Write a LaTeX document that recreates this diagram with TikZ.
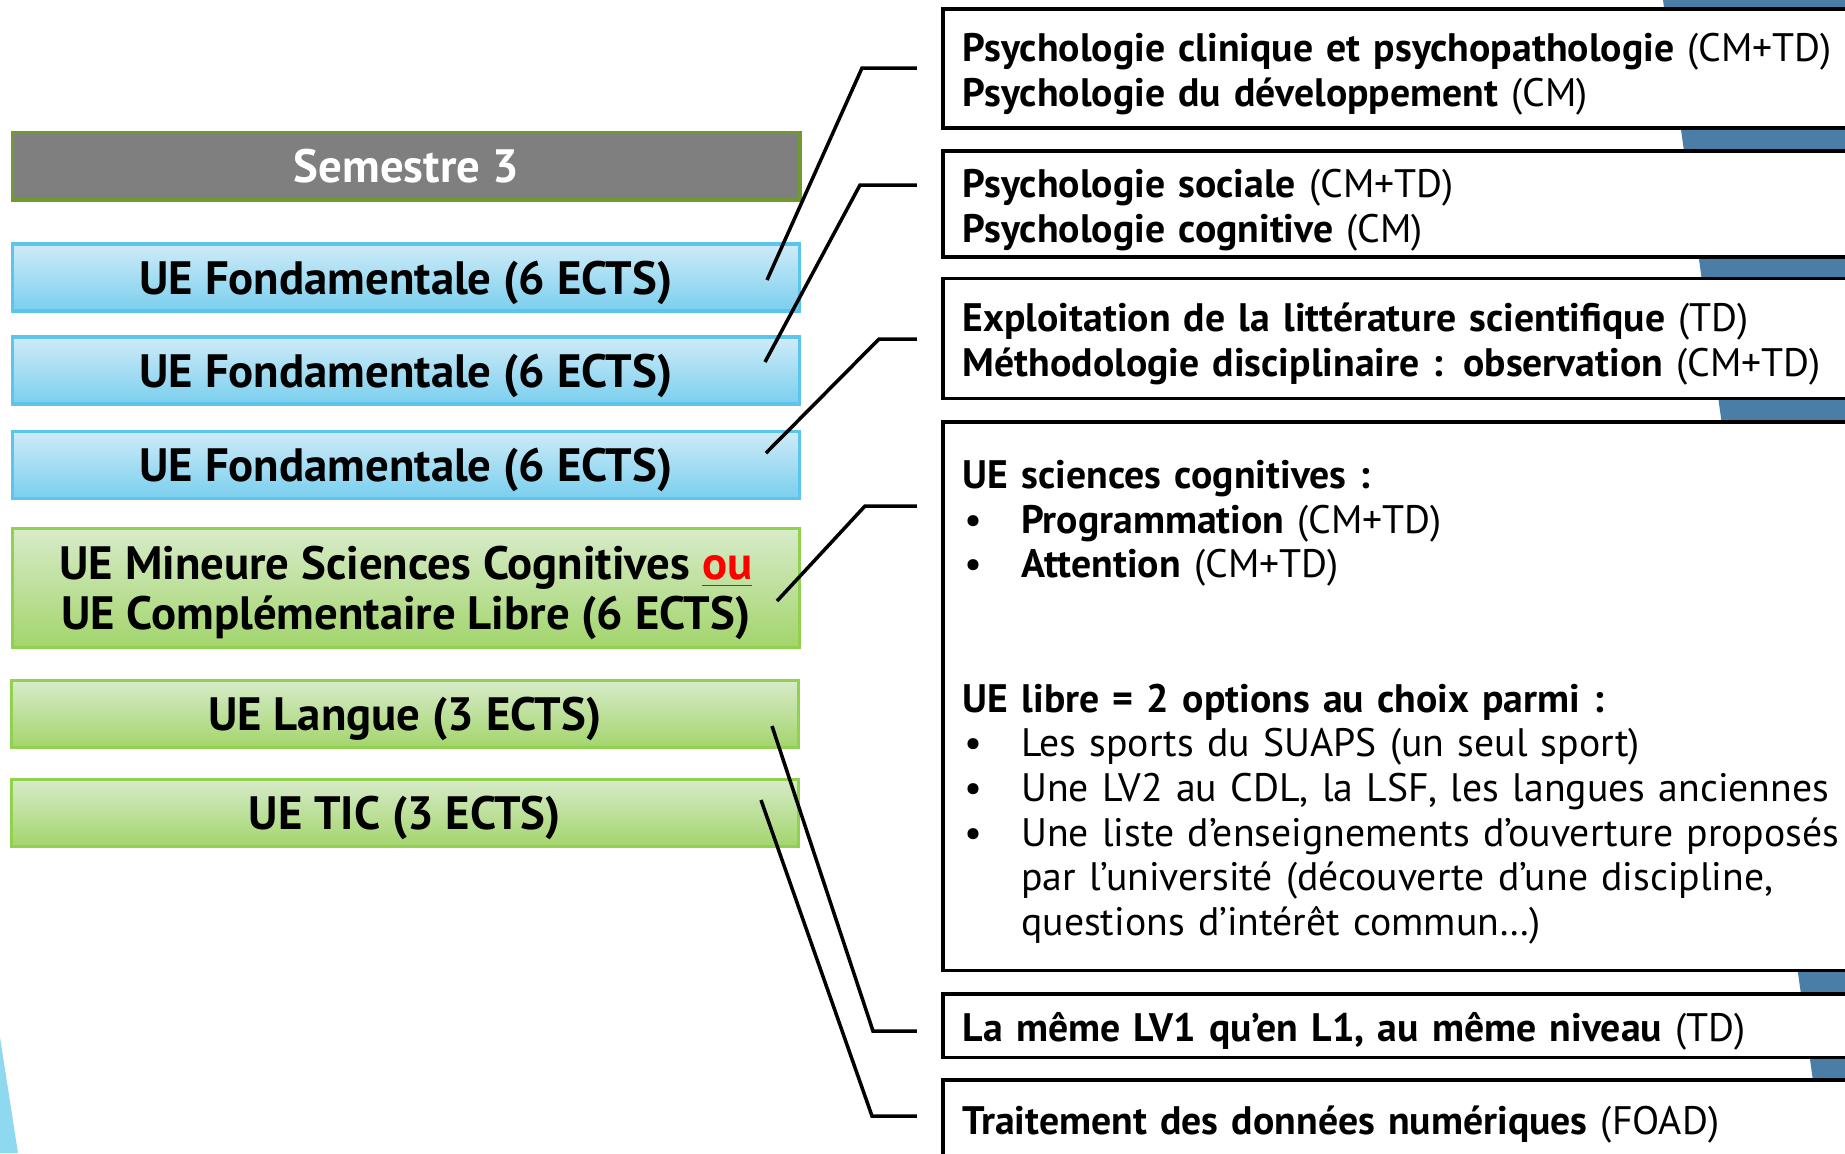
\documentclass[tikz,border=0pt]{standalone}
\usepackage{fontspec}
\setmainfont{PT Sans}

\definecolor{gristitre}{RGB}{127,127,127}
\definecolor{vertbord}{RGB}{112,154,48}
\definecolor{bleuhaut}{RGB}{207,235,248}
\definecolor{bleubas}{RGB}{122,207,238}
\definecolor{bleubord}{RGB}{91,197,236}
\definecolor{verthaut}{RGB}{215,235,201}
\definecolor{vertbas}{RGB}{163,213,108}
\definecolor{vertcadre}{RGB}{146,208,80}
\definecolor{acier}{RGB}{74,126,166}
\definecolor{ciel}{RGB}{142,216,240}

\newcommand{\puce}{\makebox[0.585cm][l]{\hspace{0.02cm}•}}

\begin{document}
\begin{tikzpicture}[x=0.01cm,y=-0.01cm,
		ue/.style={rectangle,draw,line width=0.9pt,minimum width=7.87cm,minimum height=0.67cm,anchor=north west,inner sep=0pt,text depth=0pt,align=center,font=\fontsize{13.3}{14.3}\selectfont\bfseries},
		fond/.style={ue,draw=bleubord,top color=bleuhaut,bottom color=bleubas},
		vert/.style={ue,draw=vertcadre,top color=verthaut,bottom color=vertbas},
		matiere/.style={rectangle,draw,line width=1pt,fill=white,anchor=north west,text width=9.2cm,inner xsep=0.2cm,inner ysep=0pt,text height=11.5pt,align=left,font=\fontsize{11.3}{12.72}\selectfont},
		lien/.style={line width=1pt,shorten >=0.24cm}]
		\useasboundingbox (0,0) rectangle (1845,1153);
		\clip (0,0) rectangle (1845,1153);
		% fond
		\fill[acier] (1663,0) -- (1900,0) -- (1900,1153) -- (1823,1153) -- cycle;
		\fill[ciel] (0,1037) -- (18,1153) -- (0,1153) -- cycle;
		% colonne de gauche
		\node[ue,draw=vertbord,line width=1.1pt,fill=gristitre,text=white] (sem) at (10.6,130.6) {Semestre 3};
		\node[fond] (fond1) at (10.6,242.4) {UE Fondamentale (6 ECTS)};
		\node[fond] (fond2) at (10.6,335.4) {UE Fondamentale (6 ECTS)};
		\node[fond] (fond3) at (10.6,429.5) {UE Fondamentale (6 ECTS)};
		\node[vert,minimum height=1.19cm] (mineure) at (10.6,527) {UE Mineure Sciences Cognitives \textcolor{red}{\underline{ou}}\\UE Complémentaire Libre (6 ECTS)};
		\node[vert] (langue) at (9.5,679) {UE Langue (3 ECTS)};
		\node[vert] (tic) at (9.5,777.8) {UE TIC (3 ECTS)};
		% colonne de droite
		\node[matiere,minimum height=1.19cm] (psy1) at (941,7) {\textbf{Psychologie clinique et psychopathologie} (CM+TD)\\\textbf{Psychologie du développement} (CM)};
		\node[matiere,minimum height=1.06cm] (psy2) at (941,149.4) {\textbf{Psychologie sociale} (CM+TD)\\\textbf{Psychologie cognitive} (CM)};
		\node[matiere,minimum height=1.2cm] (psy3) at (941,276.5) {\textbf{Exploitation de la littérature scientifique} (TD)\\\textbf{Méthodologie disciplinaire : observation} (CM+TD)};
		\node[matiere,minimum height=5.485cm] (cogni) at (941,420) {\textbf{UE sciences cognitives :}\\
			\puce\textbf{Programmation} (CM+TD)\\
			\puce\textbf{Attention} (CM+TD)\\
			\mbox{}\\
			\mbox{}\\
			\textbf{UE libre = 2 options au choix parmi :}\\
			\puce Les sports du SUAPS (un seul sport)\\
			\puce Une LV2 au CDL, la LSF, les langues anciennes\\
			\puce Une liste d’enseignements d’ouverture proposés\\
			\hspace*{0.585cm}par l’université (découverte d’une discipline,\\
			\hspace*{0.585cm}questions d’intérêt commun…)};
		\node[matiere,minimum height=0.635cm] (lv1) at (941,992) {\textbf{La même LV1 qu’en L1, au même niveau} (TD)};
		\node[matiere,minimum height=0.77cm] (foad) at (941,1078) {\textbf{Traitement des données numériques} (FOAD)};
		% liens
		\coordinate (d1) at (767,280);
		\coordinate (k1) at (862,68);
		\coordinate (d2) at (765,362);
		\coordinate (k2) at (860,185);
		\coordinate (d3) at (766,453);
		\coordinate (k3) at (879,339);
		\coordinate (d4) at (777,601);
		\coordinate (k4) at (865,506);
		\coordinate (d5) at (772,726);
		\coordinate (k5) at (873,1031);
		\coordinate (d6) at (761,800);
		\coordinate (k6) at (872,1116);
		\draw[lien] (d1) -- (k1) -- (k1 -| psy1.west);
		\draw[lien] (d2) -- (k2) -- (k2 -| psy2.west);
		\draw[lien] (d3) -- (k3) -- (k3 -| psy3.west);
		\draw[lien] (d4) -- (k4) -- (k4 -| cogni.west);
		\draw[lien] (d5) -- (k5) -- (k5 -| lv1.west);
		\draw[lien] (d6) -- (k6) -- (k6 -| foad.west);
\end{tikzpicture}
\end{document}
